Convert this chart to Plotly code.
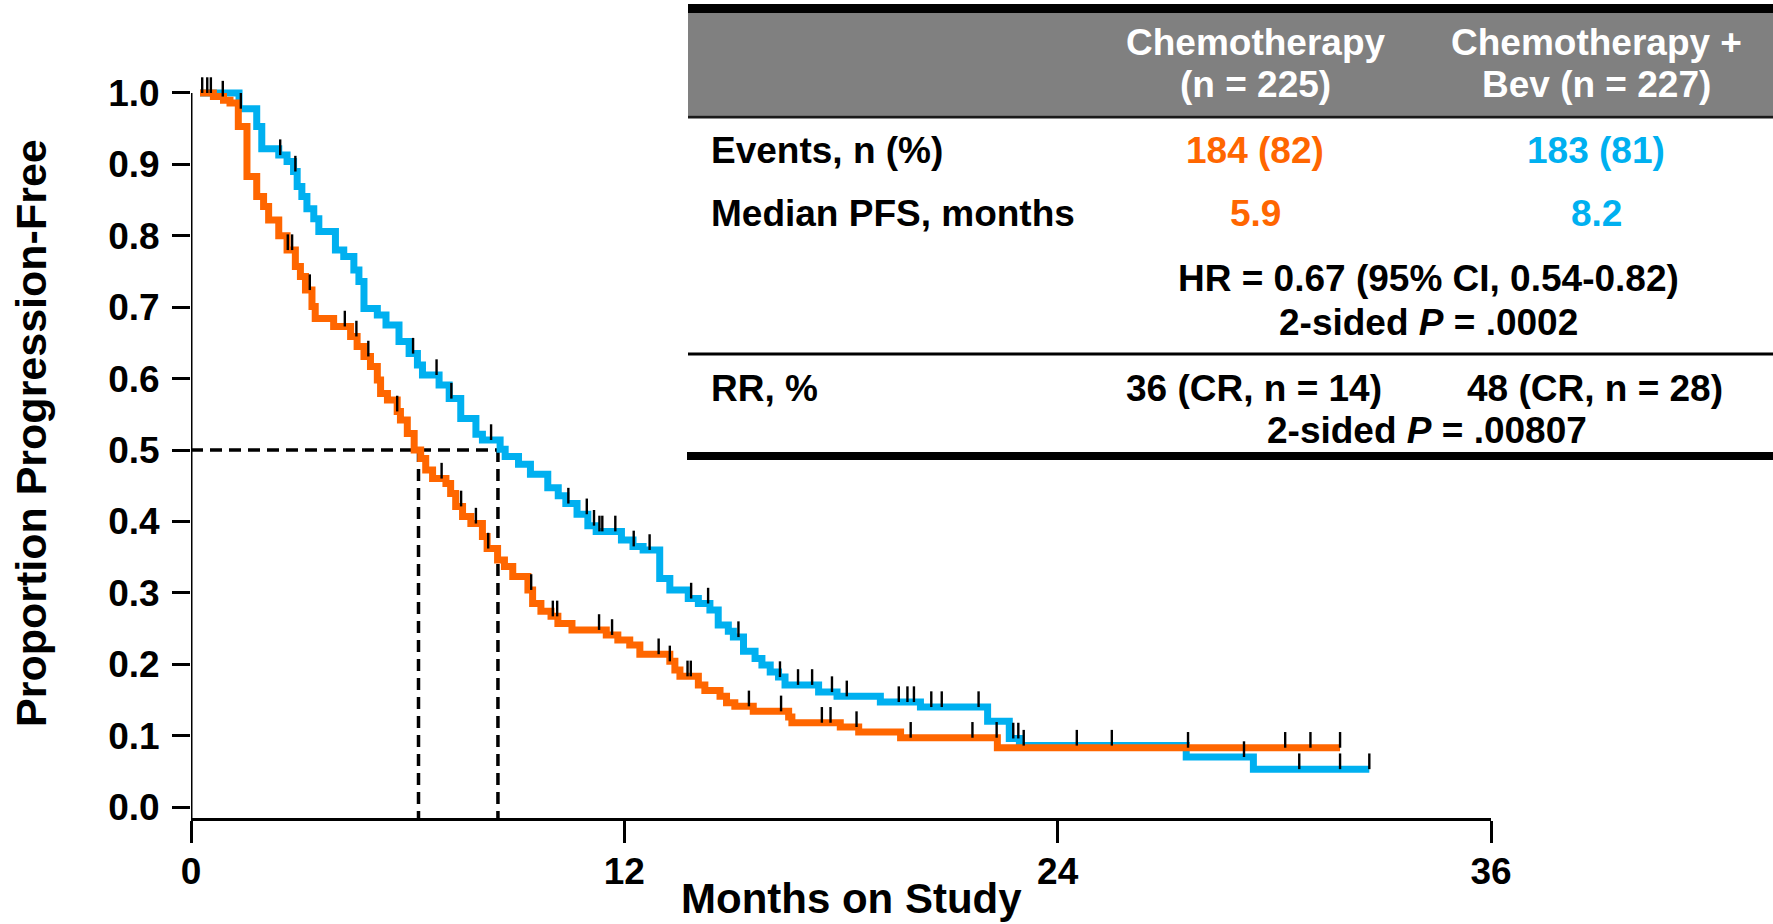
import numpy as np
import plotly.graph_objects as go

# ---------------- data ----------------
# Chemotherapy (orange): step times (months) and survival after each step
chemo_t = [0.25, 0.62, 0.90, 1.08, 1.31, 1.55, 1.82, 2.01, 2.15, 2.43, 2.66, 2.89, 3.03,
           3.17, 3.35, 3.44, 3.95, 4.42, 4.60, 4.79, 4.97, 5.16, 5.25, 5.44, 5.71, 5.80,
           5.99, 6.18, 6.36, 6.50, 6.69, 7.06, 7.19, 7.33, 7.52, 7.75, 8.07, 8.20, 8.49,
           8.68, 8.91, 9.33, 9.46, 9.69, 9.97, 10.16, 10.55, 11.50, 11.82, 12.15, 12.43,
           13.26, 13.40, 13.54, 14.05, 14.23, 14.65, 14.83, 15.06, 15.57, 16.55, 16.64,
           17.98, 18.49, 19.65, 22.33]
chemo_s = [1.000, 0.995, 0.990, 0.986, 0.953, 0.883, 0.855, 0.841, 0.822, 0.800, 0.780, 0.757, 0.743,
           0.724, 0.701, 0.684, 0.673, 0.659, 0.645, 0.631, 0.617, 0.598, 0.579, 0.570, 0.554, 0.542,
           0.523, 0.500, 0.488, 0.472, 0.460, 0.453, 0.439, 0.421, 0.407, 0.397, 0.379, 0.362, 0.346,
           0.337, 0.323, 0.304, 0.285, 0.274, 0.267, 0.257, 0.248, 0.241, 0.234, 0.227, 0.214,
           0.204, 0.192, 0.183, 0.171, 0.163, 0.155, 0.146, 0.141, 0.134, 0.126, 0.118,
           0.112, 0.105, 0.097, 0.083]
chemo_end = 31.82
chemo_censor = [0.31, 0.45, 0.55, 0.88, 2.68, 2.80, 3.29, 4.26, 4.58, 4.91, 5.71, 6.94, 7.48,
                7.89, 8.23, 9.42, 10.02, 10.14, 11.30, 11.66, 12.95, 13.26, 13.75, 13.84, 15.45,
                16.34, 17.47, 17.71, 18.43, 19.93, 21.64, 22.31, 27.61, 30.30, 31.00, 31.82]

# Chemotherapy + Bev (blue)
bev_t = [0.25, 1.33, 1.82, 1.96, 2.43, 2.66, 2.84, 2.94, 3.07, 3.21, 3.40, 3.54, 4.00, 4.23,
         4.51, 4.65, 4.79, 5.16, 5.40, 5.76, 6.04, 6.27, 6.41, 6.87, 7.15, 7.47, 7.89, 8.07,
         8.56, 8.70, 9.07, 9.40, 9.88, 10.17, 10.38, 10.69, 10.99, 11.22, 11.92, 12.24, 12.52,
         12.98, 13.26, 13.77, 14.05, 14.37, 14.60, 14.88, 15.02, 15.30, 15.62, 15.81, 16.04,
         16.27, 16.45, 17.38, 17.89, 19.09, 20.20, 22.06, 22.66, 22.94, 27.56, 29.42]
bev_s = [1.000, 0.978, 0.953, 0.922, 0.913, 0.904, 0.890, 0.869, 0.855, 0.838, 0.824, 0.806, 0.780, 0.771,
         0.752, 0.736, 0.698, 0.689, 0.675, 0.652, 0.635, 0.619, 0.605, 0.591, 0.572, 0.544, 0.522, 0.514,
         0.501, 0.491, 0.480, 0.466, 0.447, 0.436, 0.425, 0.410, 0.394, 0.386, 0.374, 0.365, 0.360,
         0.320, 0.304, 0.292, 0.285, 0.276, 0.255, 0.246, 0.238, 0.218, 0.208, 0.199, 0.189,
         0.182, 0.171, 0.161, 0.155, 0.147, 0.140, 0.120, 0.096, 0.086, 0.070, 0.053]
bev_end = 32.63
bev_censor = [1.38, 2.47, 2.89, 6.15, 6.80, 7.21, 8.31, 10.45, 10.96, 11.16, 11.31, 11.39, 11.75,
              12.26, 12.70, 13.85, 14.32, 15.16, 16.31, 16.81, 17.20, 17.75, 18.16, 19.60, 19.84,
              20.02, 20.50, 20.79, 21.81, 22.77, 22.91, 23.06, 24.53, 25.50, 29.16, 30.69, 31.82,
              32.63]

median_x = [6.3, 8.5]          # dashed drop lines as drawn
median_level = 0.5

x_ticks = [0, 12, 24, 36]
y_ticks = [round(v * 0.1, 1) for v in range(11)]

ORANGE = "#FF6600"
BLUE = "#00B0F0"
FONT = "Liberation Sans, Arial, sans-serif"

# ---------------- geometry ----------------
W, H = 1773, 924
PL, PR, PT, PB = 191, 1491, 60, 818       # plot area in pixels
X_RANGE = [0, 36]
Y_RANGE = [-0.0154, 1.0462]
TICK_H = 0.022                          # censor mark height (data units)


def px_x(px):
    return (px - PL) / (PR - PL)


def px_y(py):
    return (PB - py) / (PB - PT)


def step_value(times, surv, t):
    i = np.searchsorted(np.asarray(times), t, side="right") - 1
    return np.asarray(surv)[np.clip(i, 0, len(surv) - 1)]


fig = go.Figure()

for times, surv, end, col in [(bev_t, bev_s, bev_end, BLUE),
                              (chemo_t, chemo_s, chemo_end, ORANGE)]:
    fig.add_trace(go.Scatter(
        x=list(times) + [end], y=list(surv) + [surv[-1]],
        mode="lines", line=dict(color=col, width=7, shape="hv"),
        hoverinfo="skip", showlegend=False))

for times, surv, cens in [(bev_t, bev_s, bev_censor), (chemo_t, chemo_s, chemo_censor)]:
    ys = step_value(times, surv, np.asarray(cens))
    fig.add_trace(go.Scatter(
        x=cens, y=ys, mode="markers",
        marker=dict(size=1, color="rgba(0,0,0,0)"),
        error_y=dict(type="data", symmetric=False, array=[TICK_H] * len(cens),
                     arrayminus=[0] * len(cens), thickness=2.4, width=0, color="black"),
        hoverinfo="skip", showlegend=False))

shapes = []
# y axis line (from 0 baseline offset to 1.0)
shapes.append(dict(type="line", xref="x", yref="y", x0=0, x1=0, y0=Y_RANGE[0], y1=1.0,
                   line=dict(color="black", width=3)))
# median dashed lines
shapes.append(dict(type="line", xref="x", yref="y", x0=0, x1=max(median_x),
                   y0=median_level, y1=median_level, layer="below",
                   line=dict(color="black", width=3.5, dash="12px,7px")))
for mx in median_x:
    shapes.append(dict(type="line", xref="x", yref="y", x0=mx, x1=mx,
                       y0=median_level, y1=Y_RANGE[0], layer="below",
                       line=dict(color="black", width=3.5, dash="12px,7px")))

# table decoration
TL, TR = 688, 1773


def rect(y0, y1, color, x0=TL, x1=TR):
    return dict(type="rect", xref="paper", yref="paper", x0=px_x(x0), x1=px_x(x1),
                y0=px_y(y1), y1=px_y(y0), fillcolor=color, line=dict(width=0), layer="above")


shapes.append(rect(4, 13.5, "black"))
shapes.append(rect(13.5, 115.5, "#808080"))
shapes.append(rect(115.5, 118.5, "#1a1a1a"))
shapes.append(rect(352.5, 355.5, "black"))
shapes.append(rect(452, 460, "black", x0=687))

annotations = []


def txt(text, x, y, color="black", size=37, anchor="center", angle=0):
    annotations.append(dict(text=f"<b>{text}</b>", x=px_x(x), y=px_y(y), xref="paper",
                            yref="paper", xanchor=anchor, yanchor="middle", showarrow=False,
                            textangle=angle,
                            font=dict(family=FONT, size=size, color=color)))


C1, C2 = 1255, 1596
txt("Chemotherapy", C1, 42, "white")
txt("(n = 225)", C1, 85, "white")
txt("Chemotherapy +", C2, 42, "white")
txt("Bev (n = 227)", C2, 85, "white")
txt("Events, n (%)", 709, 150, anchor="left")
txt("184 (82)", C1, 150, ORANGE)
txt("183 (81)", C2, 150, BLUE)
txt("Median PFS, months", 709, 214, anchor="left")
txt("5.9", C1, 214, ORANGE)
txt("8.2", C2, 214, BLUE)
txt("HR = 0.67 (95% CI, 0.54-0.82)", 1428, 278)
txt("2-sided <i>P</i> = .0002", 1428, 323)
txt("RR, %", 709, 388, anchor="left")
txt("36 (CR, n = 14)", 1254, 388)
txt("48 (CR, n = 28)", 1595, 388)
txt("2-sided <i>P</i> = .00807", 1427, 431)

# axis titles
txt("Proportion Progression-Free", 31, 433, size=43, angle=-90)
txt("Months on Study", 851, 899, size=42)

fig.update_layout(
    width=W, height=H,
    margin=dict(l=PL, r=W - PR, t=PT, b=H - PB, pad=0),
    plot_bgcolor="white", paper_bgcolor="white",
    showlegend=False,
    shapes=shapes, annotations=annotations,
    xaxis=dict(range=X_RANGE, tickvals=x_ticks, ticktext=[str(v) for v in x_ticks],
               ticks="outside", ticklen=22, tickwidth=3, tickcolor="black",
               showline=True, linewidth=3, linecolor="black", showgrid=False, zeroline=False,
               ticklabelstandoff=-3,
               tickfont=dict(family=FONT, size=37, color="black", weight="bold")),
    yaxis=dict(range=Y_RANGE, tickvals=y_ticks, ticktext=[f"{v:.1f}" for v in y_ticks],
               ticks="outside", ticklen=18, tickwidth=3, tickcolor="black",
               showline=False, showgrid=False, zeroline=False,
               ticklabelstandoff=5,
               tickfont=dict(family=FONT, size=37, color="black", weight="bold")),
)

fig.write_html("out.html", config={"displayModeBar": False},
               post_script="document.body.style.margin='0';document.body.style.overflow='hidden';")
